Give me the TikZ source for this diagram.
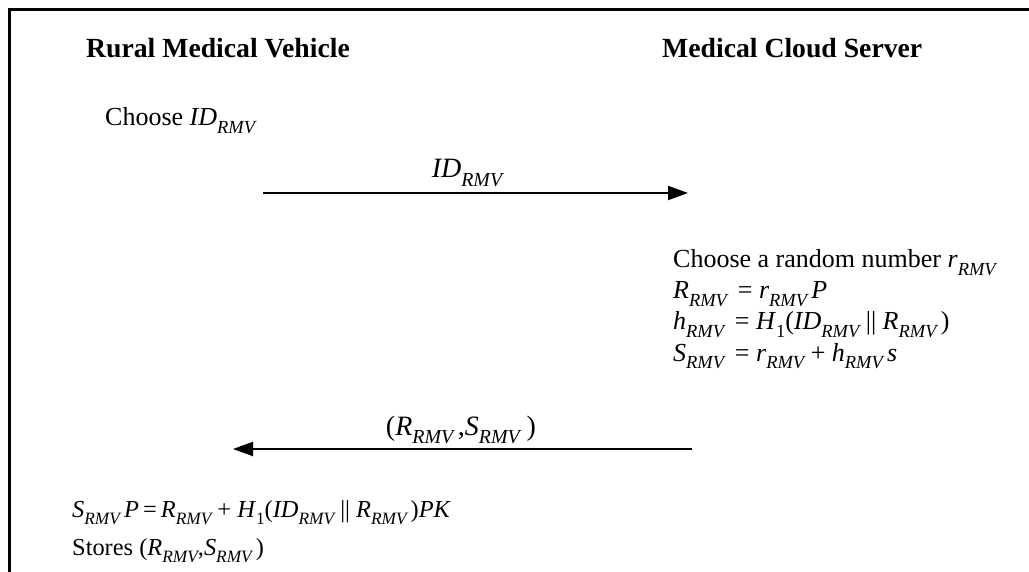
\documentclass[tikz,border=0pt]{standalone}
\usepackage{fontspec}
\usepackage{graphicx}
\setmainfont{Liberation Serif}
\usetikzlibrary{arrows.meta}
\newcommand\ssub[1]{\raisebox{-0.29em}{\scalebox{0.71}{#1}}}
\newcommand\rmv{\ssub{\itshape RMV}}
\newcommand\one{\ssub{1}}
\tikzset{
  txt/.style={inner sep=0pt, anchor=base west, font=\fontsize{26}{30}\selectfont},
  small/.style={inner sep=0pt, anchor=base west, font=\fontsize{24.4}{28}\selectfont},
  head/.style={inner sep=0pt, anchor=base west, font=\fontsize{27.7}{32}\selectfont\bfseries},
  lbl/.style={inner sep=0pt, anchor=base, font=\fontsize{28}{32}\selectfont},
  msg/.style={line width=2pt, -{Triangle[length=20pt,width=14pt]}},
  frame/.style={line width=3pt}
}
\begin{document}
\begin{tikzpicture}[x=1pt,y=-1pt]
\useasboundingbox (0,0) rectangle (1029,572);
\draw[frame] (9,572) -- (9,10) -- (1029,10);
\node[head] (rmvh) at (86,58) {Rural Medical Vehicle};
\node[head] (mcsh) at (662,58) {Medical Cloud Server};
\node[txt] (choose) at (105,126) {Choose \textit{ID}\rmv};
\coordinate (a1s) at (263,193);
\coordinate (a1e) at (688,193);
\draw[msg] (a1s) -- (a1e);
\node[lbl] (l1) at (467,178) {\textit{ID}\rmv};
\node[txt] (c1) at (673,268) {Choose a random number \textit{r}\rmv};
\node[txt] (c2) at (673,299) {\textit{R}\rmv\ \,= \textit{r}\rmv\,\textit{P}};
\node[txt] (c3) at (673,330) {\textit{h}\rmv\ \,= \textit{H}\one(\textit{ID}\rmv\ || \textit{R}\rmv\,)};
\node[txt] (c4) at (673,361) {\textit{S}\rmv\ \,= \textit{r}\rmv\ + \textit{h}\rmv\,\textit{s}};
\coordinate (a2s) at (692,449);
\coordinate (a2e) at (233,449);
\draw[msg] (a2s) -- (a2e);
\node[lbl] (l2) at (461,435) {(\textit{R}\rmv\,,\textit{S}\rmv\ )};
\node[small] (v1) at (72,517) {\textit{S}\rmv\,\textit{P}\,=\,\textit{R}\rmv\ + \textit{H}\one(\textit{ID}\rmv\ || \textit{R}\rmv\,)\textit{PK}};
\node[small] (v2) at (72,555) {Stores\ (\textit{R}\rmv,\textit{S}\rmv\,)};
\end{tikzpicture}
\end{document}
